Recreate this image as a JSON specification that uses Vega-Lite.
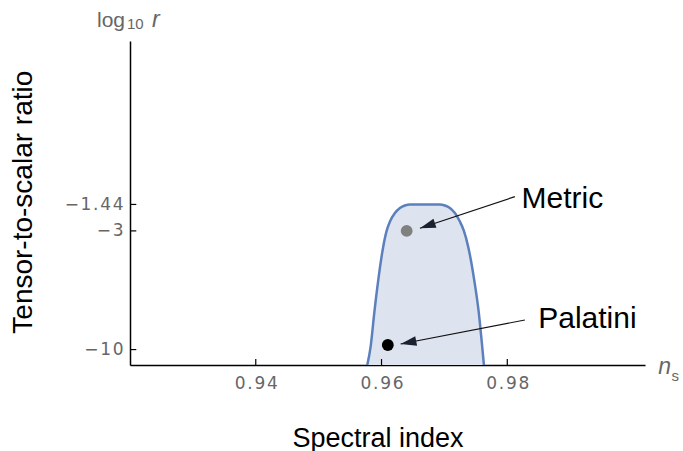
{
  "$schema": "https://vega.github.io/schema/vega-lite/v6.json",
  "width": 515,
  "height": 324,
  "autosize": {"type": "none"},
  "padding": {"left": 130, "top": 41, "right": 38, "bottom": 86},
  "background": "white",
  "config": {"view": {"stroke": null}, "font": "Liberation Sans"},
  "datasets": {
    "region": [
      {"ns": 0.95773, "logr": -10.91},
      {"ns": 0.95827, "logr": -9.83},
      {"ns": 0.95884, "logr": -7.86},
      {"ns": 0.95948, "logr": -5.9},
      {"ns": 0.96027, "logr": -3.93},
      {"ns": 0.96081, "logr": -3.0},
      {"ns": 0.96134, "logr": -2.45},
      {"ns": 0.96213, "logr": -1.95},
      {"ns": 0.96293, "logr": -1.65},
      {"ns": 0.96372, "logr": -1.5},
      {"ns": 0.96452, "logr": -1.44},
      {"ns": 0.967, "logr": -1.44},
      {"ns": 0.96928, "logr": -1.44},
      {"ns": 0.97007, "logr": -1.5},
      {"ns": 0.97087, "logr": -1.65},
      {"ns": 0.97167, "logr": -1.95},
      {"ns": 0.97246, "logr": -2.45},
      {"ns": 0.9731, "logr": -3.0},
      {"ns": 0.97378, "logr": -3.93},
      {"ns": 0.97474, "logr": -5.9},
      {"ns": 0.97548, "logr": -7.86},
      {"ns": 0.97601, "logr": -9.83},
      {"ns": 0.97628, "logr": -10.91}
    ],
    "models": [
      {"model": "Metric", "ns": 0.964, "logr": -3.0},
      {"model": "Palatini", "ns": 0.961, "logr": -9.73}
    ],
    "arrows": [
      {"model": "Metric", "ns": 0.98121, "logr": -0.981, "ns_tip": 0.96611, "logr_tip": -2.845},
      {"model": "Palatini", "ns": 0.9828, "logr": -8.255, "ns_tip": 0.96304, "logr_tip": -9.671}
    ],
    "labels": [
      {"label": "Metric", "ns": 0.98227, "logr": -1.666},
      {"label": "Palatini", "ns": 0.98492, "logr": -8.745}
    ],
    "xticks": [
      {"ns": 0.94, "logr": -10.91, "logr_end": -10.56},
      {"ns": 0.96, "logr": -10.91, "logr_end": -10.56},
      {"ns": 0.98, "logr": -10.91, "logr_end": -10.56}
    ],
    "yticks": [
      {"ns": 0.92, "ns_end": 0.921, "logr": -10},
      {"ns": 0.92, "ns_end": 0.921, "logr": -3},
      {"ns": 0.92, "ns_end": 0.921, "logr": -1.44}
    ]
  },
  "encoding": {
    "x": {
      "field": "ns",
      "type": "quantitative",
      "scale": {"domain": [0.92, 1.0019], "nice": false, "zero": false},
      "axis": {
        "values": [0.94, 0.96, 0.98],
        "grid": false,
        "domainColor": "black",
        "domainWidth": 1.5,
        "ticks": false,
        "labelFont": "DejaVu Sans",
        "labelFontSize": 17,
        "labelColor": "#666666",
        "labelPadding": 10,
        "labelExpr": "replace(format(datum.value, '.2f'), regexp('(.)(?!$)', 'g'), '$1\u200a')",
        "title": "Spectral index",
        "titleFont": "Liberation Sans",
        "titleFontSize": 27,
        "titleFontWeight": "normal",
        "titleColor": "black",
        "titleX": 247.5,
        "titleY": 81,
        "titleAlign": "center",
        "titleBaseline": "alphabetic"
      }
    },
    "y": {
      "field": "logr",
      "type": "quantitative",
      "scale": {"domain": [-10.91, 8.2], "nice": false, "zero": false},
      "axis": {
        "values": [-10, -3, -1.44],
        "grid": false,
        "domainColor": "black",
        "domainWidth": 1.5,
        "ticks": false,
        "labelFont": "DejaVu Sans",
        "labelFontSize": 17,
        "labelColor": "#666666",
        "labelPadding": 7,
        "labelExpr": "replace(format(datum.value, '~g'), regexp('(.)(?!$)', 'g'), '$1\u200a')",
        "title": "Tensor-to-scalar ratio",
        "titleFont": "Liberation Sans",
        "titleFontSize": 28,
        "titleFontWeight": "normal",
        "titleColor": "black",
        "titleAngle": -90,
        "titleX": -98.3,
        "titleY": 160.7,
        "titleAlign": "center",
        "titleBaseline": "alphabetic"
      }
    }
  },
  "layer": [
    {
      "data": {"name": "region"},
      "mark": {
        "type": "area",
        "color": "#dee4ef",
        "opacity": 1,
        "interpolate": "monotone",
        "line": {"color": "#5b80bd", "strokeWidth": 2.5}
      },
      "encoding": {"y2": {"datum": -10.91}}
    },
    {
      "data": {"name": "xticks"},
      "mark": {"type": "rule", "color": "black", "strokeWidth": 1.2},
      "encoding": {"y2": {"field": "logr_end"}}
    },
    {
      "data": {"name": "yticks"},
      "mark": {"type": "rule", "color": "black", "strokeWidth": 1.2},
      "encoding": {"x2": {"field": "ns_end"}}
    },
    {
      "data": {"name": "arrows"},
      "mark": {"type": "rule", "color": "#111111", "strokeWidth": 1.2},
      "encoding": {
        "x2": {"field": "ns_tip"},
        "y2": {"field": "logr_tip"}
      }
    },
    {
      "data": {"name": "arrows"},
      "transform": [{"filter": "datum.model == 'Metric'"}],
      "mark": {"type": "point", "shape": "M0,0L0.3,1L-0.3,1Z", "filled": true, "color": "#1b2130", "opacity": 1, "size": 1000, "angle": 251.6},
      "encoding": {
        "x": {"field": "ns_tip", "type": "quantitative"},
        "y": {"field": "logr_tip", "type": "quantitative"}
      }
    },
    {
      "data": {"name": "arrows"},
      "transform": [{"filter": "datum.model == 'Palatini'"}],
      "mark": {"type": "point", "shape": "M0,0L0.3,1L-0.3,1Z", "filled": true, "color": "#1b2130", "opacity": 1, "size": 1000, "angle": 259},
      "encoding": {
        "x": {"field": "ns_tip", "type": "quantitative"},
        "y": {"field": "logr_tip", "type": "quantitative"}
      }
    },
    {
      "data": {"name": "models"},
      "mark": {"type": "circle", "size": 140, "opacity": 1},
      "encoding": {
        "color": {
          "field": "model",
          "type": "nominal",
          "scale": {"domain": ["Metric", "Palatini"], "range": ["#808080", "#000000"]},
          "legend": null
        }
      }
    },
    {
      "data": {"name": "labels"},
      "mark": {"type": "text", "align": "left", "baseline": "alphabetic", "font": "Liberation Sans", "fontSize": 30, "color": "black"},
      "encoding": {"text": {"field": "label"}}
    },
    {
      "data": {"values": [{"t": "log", "ns": 0.91475, "logr": 9.03}]},
      "mark": {"type": "text", "align": "left", "baseline": "alphabetic", "font": "Liberation Sans", "fontSize": 21, "color": "#666666"},
      "encoding": {"text": {"field": "t"}}
    },
    {
      "data": {"values": [{"t": "10", "ns": 0.91952, "logr": 8.895}, {"t": "s", "ns": 1.00611, "logr": -11.85}]},
      "mark": {"type": "text", "align": "left", "baseline": "alphabetic", "font": "Liberation Sans", "fontSize": 15, "color": "#666666"},
      "encoding": {"text": {"field": "t"}}
    },
    {
      "data": {"values": [{"t": "r", "ns": 0.9235, "logr": 9.03}, {"t": "n", "ns": 1.00399, "logr": -11.44}]},
      "mark": {"type": "text", "align": "left", "baseline": "alphabetic", "font": "Liberation Sans", "fontSize": 23, "fontStyle": "italic", "color": "#666666"},
      "encoding": {"text": {"field": "t"}}
    }
  ]
}
